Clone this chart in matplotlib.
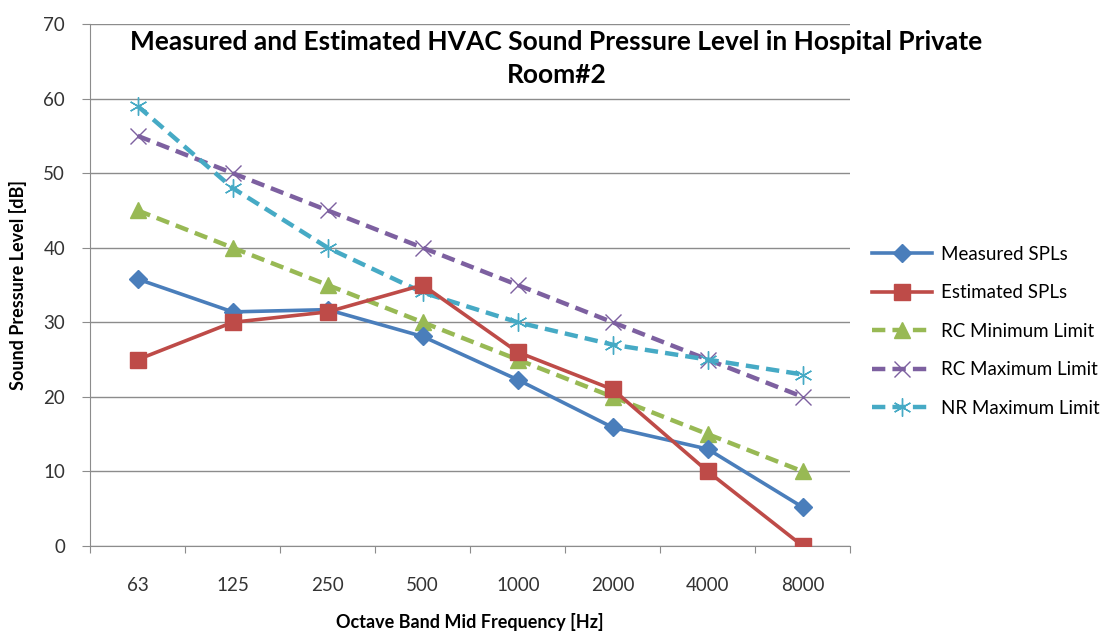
import numpy as np
import matplotlib
matplotlib.use("Agg")
import matplotlib.pyplot as plt

# data
frequencies = ['63', '125', '250', '500', '1000', '2000', '4000', '8000']
measured_spl = [35.8, 31.4, 31.7, 28.1, 22.3, 15.9, 13.0, 5.2]
estimated_spl = [25, 30, 31.4, 35, 26, 21, 10, 0]
rc_min = [45, 40, 35, 30, 25, 20, 15, 10]
rc_max = [55, 50, 45, 40, 35, 30, 25, 20]
nr_max = [59, 48, 40, 34, 30, 27, 25, 23]

plt.rcParams['font.family'] = ['Lato', 'DejaVu Sans']

fig = plt.figure(figsize=(11.13, 6.32), dpi=100)
ax = fig.add_axes([0.081, 0.136, 0.683, 0.826])

x = np.arange(len(frequencies))
dash = (0, (3.0, 1.6))

ax.plot(x, measured_spl, color='#4A7EBB', lw=2.6, marker='D', ms=9,
        label='Measured SPLs', zorder=5)
ax.plot(x, estimated_spl, color='#BE4B48', lw=2.6, marker='s', ms=11,
        label='Estimated SPLs', zorder=5)
ax.plot(x, rc_min, color='#98B954', lw=3.2, ls=dash, marker='^', ms=11,
        label='RC Minimum Limit', zorder=4)
ax.plot(x, rc_max, color='#7D60A0', lw=3.2, ls=dash, marker='x', ms=11,
        mew=1.0, label='RC Maximum Limit', zorder=4)
ax.plot(x, nr_max, color='#46AAC5', lw=3.2, ls=dash, marker=(6, 2, 0), ms=13,
        mew=1.0, label='NR Maximum Limit', zorder=4)

ax.set_xlim(-0.5, 7.5)
ax.set_ylim(0, 70)
ax.set_yticks(range(0, 71, 10))
ax.yaxis.grid(True, color='#8C8C8C', lw=1.0)
ax.set_axisbelow(True)

# category ticks between the points, labels centred on them
ax.set_xticks(np.arange(-0.5, 8, 1))
ax.set_xticklabels([])
ax.set_xticks(x, minor=True)
ax.set_xticklabels(frequencies, minor=True)
ax.tick_params(axis='x', which='major', length=5, color='#8C8C8C', direction='out')
ax.tick_params(axis='x', which='minor', length=0, pad=22, labelsize=13.5, labelcolor='#333333')
ax.tick_params(axis='y', length=6, color='#8C8C8C', pad=12, labelsize=13.5, labelcolor='#333333')

for side in ['top', 'right']:
    ax.spines[side].set_visible(False)
for side in ['left', 'bottom']:
    ax.spines[side].set_color('#8C8C8C')

ax.set_xlabel('Octave Band Mid Frequency [Hz]', fontsize=13, fontweight='bold', labelpad=14)
ax.set_ylabel('Sound Pressure Level [dB]', fontsize=13, fontweight='bold', labelpad=12)

fig.text(0.50, 0.952, 'Measured and Estimated HVAC Sound Pressure Level in Hospital Private\nRoom#2',
         ha='center', va='top', fontsize=19, fontweight='bold', linespacing=1.45)

ax.legend(loc='upper left', bbox_to_anchor=(1.018, 0.59), frameon=False, fontsize=13.5,
          handlelength=3.2, handletextpad=0.5, labelspacing=1.15, borderaxespad=0)

fig.savefig('out.png', dpi=100)
